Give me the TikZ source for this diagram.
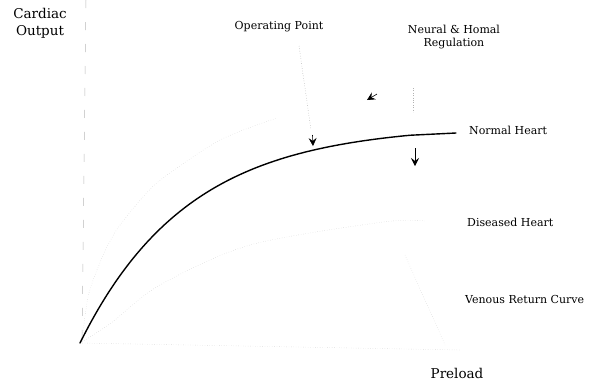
\documentclass[tikz,border=0pt]{standalone}
\usepackage{fontspec}
\setmainfont{DejaVu Serif}
\usetikzlibrary{arrows.meta}
\begin{document}
\begin{tikzpicture}[x=1pt,y=-1pt,
  small/.style={font=\fontsize{11}{12.5}\selectfont, inner sep=0pt, align=center},
  big/.style={font=\fontsize{13.5}{17}\selectfont, inner sep=0pt, align=center},
  faint/.style={gray!45, line width=0.4pt, dotted},
  faintdash/.style={gray!55, line width=0.5pt, dash pattern=on 8pt off 14pt},
  curve/.style={line width=1.4pt, line cap=round, line join=round},
  tip/.style={-{Stealth[length=8pt,width=8pt,inset=3pt]}}]
\useasboundingbox (0,0) rectangle (606,384);
% labels
\node[big] (co) at (40,23) {Cardiac\\Output};
\node[small] (op) at (279,27) {Operating Point};
\node[small] (nr) at (454,37) {Neural \& Homal\\Regulation};
\node[small, anchor=west] (nh) at (469,130) {Normal Heart};
\node[small, anchor=west] (dh) at (467,222) {Diseased Heart};
\node[small, anchor=west] (vr) at (465,299) {Venous Return Curve};
\node[big] (pl) at (457,373) {Preload};
% coordinates
\coordinate (o) at (80,343);
\coordinate (opt) at (313,146);
\coordinate (nend) at (456,133);
% faint axes and curves
\draw[faintdash] (86,0) -- (82,345);
\draw[faint] (o) -- (460,350);
\draw[faint] plot[smooth] coordinates {(82,340) (88,297) (97,270) (108,245) (120,225) (143,197) (163,178) (220,140) (277,118)};
\draw[faint] plot[smooth] coordinates {(80,343) (111,323) (160,285) (250,245) (383,222) (425,221)};
\draw[faint] (405,255) -- (445,345);
% main curve
\draw[curve] plot[domain=80:410, samples=120] (\x, {343-218*(1-exp(-(\x-80)/108))}) -- (nend);
% arrows
\draw[line width=0.5pt, gray!70, dotted] (299,46) -- (311,130);
\draw[tip, line width=0.6pt] (312.5,135) -- (opt);
\draw[faint, gray!60] (413,88) -- (413,112);
\draw[tip, line width=0.6pt] (415,148) -- (415,166);
\draw[tip, line width=0.6pt] (377,94) -- (367,100);
\end{tikzpicture}
\end{document}
